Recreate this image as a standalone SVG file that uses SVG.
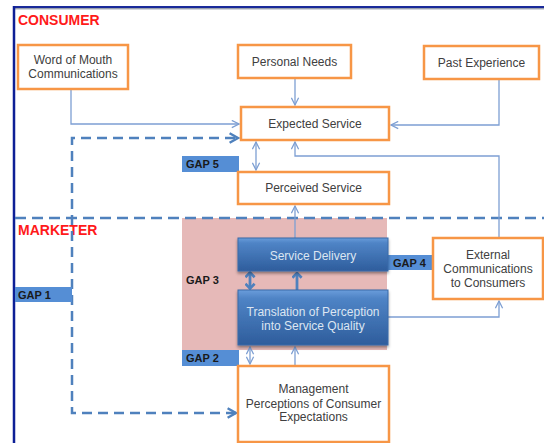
<svg xmlns="http://www.w3.org/2000/svg" width="544" height="443" viewBox="0 0 544 443">
<style>
.box{fill:#fff;stroke:#f79646;stroke-width:2.5}
.t{font-family:"Liberation Sans",Arial,sans-serif;font-size:12px;fill:#404040;text-anchor:middle}
.tw{font-family:"Liberation Sans",Arial,sans-serif;font-size:12px;fill:#dce6f2;text-anchor:middle}
.gl{fill:#558ed5}
.g{font-family:"Liberation Sans",Arial,sans-serif;font-size:11px;font-weight:bold;fill:#1a1a1a}
.h{font-family:"Liberation Sans",Arial,sans-serif;font-size:14px;font-weight:bold;fill:#ff1a1a}
.thin{fill:none;stroke:#7d9fd3;stroke-width:1.3}
.dash{fill:none;stroke:#4f81bd;stroke-width:2.5;stroke-dasharray:10 6}
.thick{fill:none;stroke:#4f81bd;stroke-width:2.8}
.blue{fill:url(#bg);stroke:#3a6aa8;stroke-width:1;filter:url(#sh)}
</style>
<defs>
<linearGradient id="bg" x1="0" y1="0" x2="0" y2="1">
<stop offset="0" stop-color="#6a9ddb"/>
<stop offset="0.15" stop-color="#4f84c6"/>
<stop offset="1" stop-color="#2e5d9c"/>
</linearGradient>
<filter id="sh" x="-10%" y="-10%" width="120%" height="140%">
<feDropShadow dx="0" dy="2" stdDeviation="1.5" flood-color="#000" flood-opacity="0.4"/>
</filter>
<marker id="a" viewBox="0 0 10 10" refX="9" refY="5" markerWidth="9" markerHeight="9" markerUnits="userSpaceOnUse" orient="auto-start-reverse">
<path d="M1,1 L9,5 L1,9" fill="none" stroke="#7d9fd3" stroke-width="1.4"/>
</marker>
<marker id="ad" viewBox="0 0 10 10" refX="8.5" refY="5" markerWidth="12" markerHeight="12" markerUnits="userSpaceOnUse" orient="auto-start-reverse">
<path d="M1.5,1 L8.5,5 L1.5,9" fill="none" stroke="#4f81bd" stroke-width="2"/>
</marker>
<marker id="at" viewBox="0 0 10 10" refX="8.8" refY="5" markerWidth="11" markerHeight="11" markerUnits="userSpaceOnUse" orient="auto-start-reverse">
<path d="M4.5,0.8 L8.8,5 L4.5,9.2" fill="none" stroke="#4f81bd" stroke-width="2.4"/>
</marker>
</defs>
<rect width="544" height="443" fill="#fff"/>
<!-- frame -->
<line x1="13" y1="7" x2="544" y2="7" stroke="#1a2a9a" stroke-width="2.2"/>
<line x1="13" y1="8.8" x2="544" y2="8.8" stroke="#4a5570" stroke-width="0.8"/>
<line x1="14" y1="6" x2="14" y2="443" stroke="#0d1f96" stroke-width="2.5"/>
<!-- marketer area -->
<rect x="182" y="218" width="205" height="132" fill="#e6b9b8"/>
<line class="dash" x1="15" y1="218" x2="544" y2="218" style="stroke-dasharray:11 6"/>
<text class="h" x="18" y="25">CONSUMER</text>
<text class="h" x="18" y="235">MARKETER</text>
<g id="connectors">
<path class="thin" d="M71,90 V124 H239" marker-end="url(#a)"/>
<path class="thin" d="M295,78 V105" marker-end="url(#a)"/>
<path class="thin" d="M499,79 V125 H391" marker-end="url(#a)"/>
<path class="thin" d="M256,142 V170" marker-start="url(#a)" marker-end="url(#a)"/>
<path class="thin" d="M499,238 V156 H295 V142" marker-end="url(#a)"/>
<path class="thin" d="M295,238 V206" marker-end="url(#a)"/>
<path class="thin" d="M388,317 H499 V301" marker-end="url(#a)"/>
<path class="thick" d="M250,272.5 V288.5" marker-start="url(#at)" marker-end="url(#at)"/>
<path class="thick" d="M297,290 V273" marker-end="url(#at)"/>
<path class="thin" d="M250,347 V364" marker-start="url(#a)" marker-end="url(#a)"/>
<path class="thin" d="M295,366 V347" marker-end="url(#a)"/>
<path class="dash" d="M236,413 H72 V138 H238" marker-start="url(#ad)" marker-end="url(#ad)"/>
</g>
<g id="gap1"><rect class="gl" x="15" y="287" width="57" height="15"/><text class="g" x="18" y="299">GAP 1</text></g>
<g id="gap2"><rect class="gl" x="182" y="350" width="57" height="16"/><text class="g" x="186" y="362">GAP 2</text></g>
<g id="gap3"><text class="g" x="186" y="284">GAP 3</text></g>
<g id="gap4"><rect class="gl" x="388" y="255" width="45" height="15"/><text class="g" x="393" y="267">GAP 4</text></g>
<g id="gap5"><rect class="gl" x="182" y="156" width="57" height="16"/><text class="g" x="186" y="168">GAP 5</text></g>
<g id="word-of-mouth"><rect class="box" x="18" y="45" width="110" height="44"/><text class="t" x="73" y="64">Word of Mouth</text><text class="t" x="73" y="78">Communications</text></g>
<g id="personal-needs"><rect class="box" x="238" y="45" width="113" height="33"/><text class="t" x="294.5" y="66">Personal Needs</text></g>
<g id="past-experience"><rect class="box" x="424" y="46" width="115" height="33"/><text class="t" x="481.5" y="67">Past Experience</text></g>
<g id="expected-service"><rect class="box" x="241" y="107" width="148" height="33"/><text class="t" x="315" y="128">Expected Service</text></g>
<g id="perceived-service"><rect class="box" x="238" y="172" width="151" height="32"/><text class="t" x="313.5" y="192">Perceived Service</text></g>
<g id="service-delivery"><rect class="blue" x="238" y="238" width="150" height="33"/><text class="tw" x="313" y="260">Service Delivery</text></g>
<g id="translation"><rect class="blue" x="238" y="290" width="150" height="55"/><text class="tw" x="313" y="316">Translation of Perception</text><text class="tw" x="313" y="330">into Service Quality</text></g>
<g id="management"><rect class="box" x="238" y="366" width="151" height="76"/><text class="t" x="313.5" y="393">Management</text><text class="t" x="313.5" y="408">Perceptions of Consumer</text><text class="t" x="313.5" y="421">Expectations</text></g>
<g id="external"><rect class="box" x="433" y="238" width="110" height="61"/><text class="t" x="488" y="259">External</text><text class="t" x="488" y="273">Communications</text><text class="t" x="488" y="287">to Consumers</text></g>
</svg>
